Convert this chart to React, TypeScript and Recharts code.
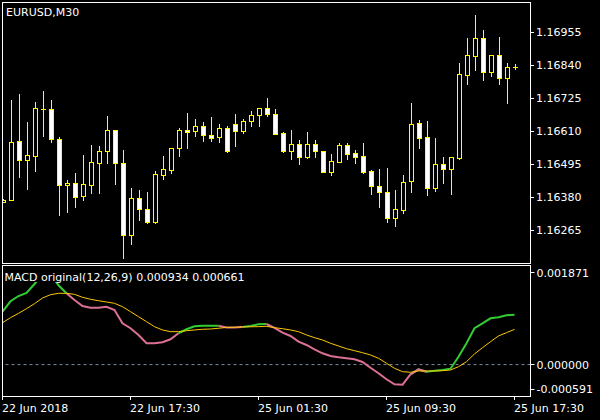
import { ComposedChart, Bar, LineChart, Line, XAxis, YAxis, ReferenceLine } from 'recharts';

const BG = '#000000';
const FRAME = '#FFFFFF';
const CANDLE = '#FFFF00';
const BEAR_FILL = '#FFFFFF';
const MACD_UP = '#32CD32';
const MACD_DOWN = '#DB7093';
const SIGNAL = '#FFC800';
const ZERO = '#778899';
const FONT = '"DejaVu Sans", sans-serif';

// EURUSD M30, bar 0 = 22 Jun 2018
const opens = [
  1.16365, 1.16372, 1.16575, 1.16511, 1.16525, 1.16689, 1.16687, 1.16582, 1.16422, 1.16429,
  1.16383, 1.16422, 1.16501, 1.16540, 1.16613, 1.16498, 1.16248, 1.16376, 1.16338, 1.16295,
  1.16459, 1.16476, 1.16551, 1.16613, 1.16610, 1.16627, 1.16596, 1.16589, 1.16620, 1.16634,
  1.16610, 1.16645, 1.16666, 1.16690, 1.16669, 1.16603, 1.16542, 1.16565, 1.16521, 1.16565,
  1.16540, 1.16469, 1.16504, 1.16561, 1.16533, 1.16523, 1.16471, 1.16418, 1.16397, 1.16307,
  1.16337, 1.16438, 1.16638, 1.16589, 1.16413, 1.16495, 1.16480, 1.16517, 1.16807, 1.16873,
  1.16935, 1.16818, 1.16875, 1.16797, 1.16833,
];
const highs = [
  1.16374, 1.16719, 1.16740, 1.16642, 1.16712, 1.16750, 1.16719, 1.16589, 1.16440, 1.16465,
  1.16527, 1.16561, 1.16558, 1.16663, 1.16615, 1.16544, 1.16411, 1.16405, 1.16398, 1.16471,
  1.16524, 1.16551, 1.16620, 1.16674, 1.16653, 1.16642, 1.16660, 1.16635, 1.16627, 1.16670,
  1.16652, 1.16680, 1.16690, 1.16726, 1.16688, 1.16606, 1.16615, 1.16580, 1.16608, 1.16580,
  1.16540, 1.16530, 1.16568, 1.16568, 1.16544, 1.16568, 1.16474, 1.16479, 1.16481, 1.16404,
  1.16458, 1.16709, 1.16649, 1.16646, 1.16587, 1.16520, 1.16519, 1.16847, 1.16935, 1.17015,
  1.16963, 1.16875, 1.16939, 1.16848, 1.16843,
];
const lows = [
  1.16364, 1.16371, 1.16452, 1.16410, 1.16473, 1.16595, 1.16572, 1.16319, 1.16330, 1.16347,
  1.16372, 1.16396, 1.16396, 1.16501, 1.16427, 1.16169, 1.16218, 1.16302, 1.16291, 1.16291,
  1.16445, 1.16466, 1.16525, 1.16553, 1.16595, 1.16577, 1.16575, 1.16574, 1.16539, 1.16560,
  1.16605, 1.16627, 1.16630, 1.16662, 1.16600, 1.16539, 1.16515, 1.16497, 1.16518, 1.16521,
  1.16469, 1.16459, 1.16503, 1.16515, 1.16501, 1.16466, 1.16393, 1.16347, 1.16295, 1.16281,
  1.16326, 1.16398, 1.16553, 1.16388, 1.16403, 1.16431, 1.16393, 1.16515, 1.16775, 1.16825,
  1.16790, 1.16804, 1.16776, 1.16710, 1.16826,
];
const closes = [
  1.16371, 1.16572, 1.16511, 1.16526, 1.16690, 1.16687, 1.16582, 1.16422, 1.16429, 1.16382,
  1.16425, 1.16502, 1.16540, 1.16613, 1.16498, 1.16248, 1.16376, 1.16338, 1.16295, 1.16460,
  1.16478, 1.16551, 1.16613, 1.16606, 1.16627, 1.16596, 1.16586, 1.16620, 1.16540, 1.16610,
  1.16645, 1.16666, 1.16690, 1.16669, 1.16602, 1.16542, 1.16565, 1.16521, 1.16565, 1.16540,
  1.16469, 1.16505, 1.16561, 1.16532, 1.16521, 1.16469, 1.16418, 1.16397, 1.16307, 1.16339,
  1.16432, 1.16635, 1.16588, 1.16413, 1.16495, 1.16480, 1.16519, 1.16809, 1.16875, 1.16935,
  1.16818, 1.16875, 1.16797, 1.16833, 1.16833,
];

const macdValues = [
  0.000994, 0.001189, 0.001288, 0.001345, 0.001514, 0.001690, 0.001700, 0.001490, 0.001340, 0.001213,
  0.001101, 0.001069, 0.001069, 0.001087, 0.001025, 0.000775, 0.000682, 0.000556, 0.000400, 0.000400,
  0.000419, 0.000475, 0.000588, 0.000663, 0.000719, 0.000730, 0.000730, 0.000730, 0.000695, 0.000697,
  0.000706, 0.000725, 0.000757, 0.000762, 0.000690, 0.000599, 0.000537, 0.000430, 0.000368, 0.000287,
  0.000212, 0.000161, 0.000137, 0.000118, 0.000099, 0.000048, -0.000059, -0.000164, -0.000277, -0.000371,
  -0.000378, -0.000183, -0.000089, -0.000134, -0.000118, -0.000102, -0.000078, 0.000148, 0.000400, 0.000682,
  0.000775, 0.000869, 0.000888, 0.000926, 0.000934,
];
const signalValues = [
  0.000787, 0.000881, 0.000963, 0.001050, 0.001144, 0.001251, 0.001313, 0.001339, 0.001339, 0.001320,
  0.001264, 0.001226, 0.001200, 0.001176, 0.001151, 0.001087, 0.000994, 0.000900, 0.000806, 0.000712,
  0.000650, 0.000618, 0.000618, 0.000636, 0.000650, 0.000663, 0.000668, 0.000682, 0.000698, 0.000700,
  0.000708, 0.000710, 0.000712, 0.000719, 0.000693, 0.000674, 0.000650, 0.000618, 0.000556, 0.000505,
  0.000462, 0.000400, 0.000349, 0.000298, 0.000261, 0.000223, 0.000180, 0.000118, 0.000024, -0.000070,
  -0.000134, -0.000145, -0.000121, -0.000121, -0.000121, -0.000115, -0.000102, -0.000040, 0.000054, 0.000199,
  0.000317, 0.000430, 0.000537, 0.000599, 0.000661,
];

const PRICE_MIN = 1.16151;
const PRICE_MAX = 1.170606;
const MACD_MIN = -0.000591;
const MACD_MAX = 0.001871;
const BAR_SLOTS = 66;

const priceTicks = [1.16265, 1.1638, 1.16495, 1.1661, 1.16725, 1.1684, 1.16955];
const macdTicks = [MACD_MIN, 0, MACD_MAX];
const timeTicks = [0, 16, 32, 48, 64];
const timeLabels = ['22 Jun 2018', '22 Jun 17:30', '25 Jun 01:30', '25 Jun 09:30', '25 Jun 17:30'];

const candles = Array.from({ length: BAR_SLOTS }, (_, i) => ({
  i,
  open: opens[i] ?? null,
  high: highs[i] ?? null,
  low: lows[i] ?? null,
  close: closes[i] ?? null,
}));

// line is green while MACD is above its signal line
const above = macdValues.map((m, i) => m >= signalValues[i]);
const macdRows = macdValues.map((m, i) => {
  const nextAbove = i + 1 < above.length ? above[i + 1] : above[i];
  return {
    i,
    signal: signalValues[i],
    up: above[i] || nextAbove ? m : null,
    dn: !above[i] || !nextAbove ? m : null,
  };
});

function Candle(props: any) {
  const { x, y, width, height, payload } = props;
  if (!payload || payload.high == null || !isFinite(y) || !isFinite(height)) return null;
  const { open, high, low, close } = payload;
  const top = Math.min(y, y + height);
  const h = Math.abs(height);
  const k = high === low ? 0 : h / (high - low);
  const yOf = (v: number) => top + (high - v) * k;
  const cx = x + width / 2;
  const wickTop = Math.round(top);
  const wickBot = Math.round(top + h);
  const bodyTop = Math.round(yOf(Math.max(open, close)));
  const bodyBot = Math.round(yOf(Math.min(open, close)));
  return (
    <g>
      <rect x={cx - 0.5} y={wickTop} width={1} height={wickBot - wickTop + 1} fill={CANDLE} />
      {bodyBot - bodyTop < 1 ? (
        <rect x={cx - 2.5} y={bodyTop} width={5} height={1} fill={CANDLE} />
      ) : (
        <rect
          x={cx - 2}
          y={bodyTop + 0.5}
          width={4}
          height={bodyBot - bodyTop}
          fill={close > open ? BG : BEAR_FILL}
          stroke={CANDLE}
          strokeWidth={1}
        />
      )}
    </g>
  );
}

function PriceTick(props: any) {
  const { x, y, payload } = props;
  return (
    <g>
      <line x1={x - 6} x2={x - 2} y1={Math.floor(y) + 0.5} y2={Math.floor(y) + 0.5} stroke={FRAME} />
      <text x={x} y={y + 4} fill={FRAME} fontSize={11} fontFamily={FONT}>
        {Number(payload.value).toFixed(5)}
      </text>
    </g>
  );
}

function MacdTick(props: any) {
  const { x, y, payload } = props;
  // keep the end labels inside the sub window, as the terminal does
  const ty = Math.min(Math.max(y, 7.7), 124);
  return (
    <g>
      <line x1={x - 6} x2={x - 2} y1={Math.floor(ty) + 0.5} y2={Math.floor(ty) + 0.5} stroke={FRAME} />
      <text x={x} y={ty + 4} fill={FRAME} fontSize={11} fontFamily={FONT}>
        {Number(payload.value).toFixed(6)}
      </text>
    </g>
  );
}

function TimeTick(props: any) {
  const { x, y, payload } = props;
  const label = timeLabels[timeTicks.indexOf(payload.value)] ?? '';
  const lx = Math.floor(x) + 0.5;
  return (
    <g>
      <line x1={lx} x2={lx} y1={y - 5} y2={y - 1} stroke={FRAME} />
      <text x={Math.floor(x)} y={y + 10.5} fill={FRAME} fontSize={11} fontFamily={FONT}>
        {label}
      </text>
    </g>
  );
}

const frame = (top: number, height: number) => ({
  position: 'absolute' as const,
  left: 2,
  top,
  width: 529,
  height,
  boxSizing: 'border-box' as const,
  border: `1px solid ${FRAME}`,
  pointerEvents: 'none' as const,
});

export default function App() {
  const last = macdValues.length - 1;
  const macdLabel = `MACD original(12,26,9) ${macdValues[last].toFixed(6)} ${signalValues[last].toFixed(6)}`;
  return (
    <div style={{ position: 'absolute', left: 0, top: 0, width: 600, height: 420, background: BG, overflow: 'hidden' }}>
      <div style={{ position: 'absolute', left: 2, top: 0, width: 598, height: 265, overflow: 'hidden' }}>
        <div style={{ position: 'absolute', left: -2, top: 0 }}>
          <ComposedChart width={600} height={265} data={candles} margin={{ top: 2, right: 0, bottom: 2, left: -1 }}>
            <XAxis dataKey="i" type="category" hide padding={{ left: 0, right: 3 }} />
            <YAxis
              orientation="right"
              width={70}
              domain={[PRICE_MIN, PRICE_MAX]}
              allowDataOverflow
              ticks={priceTicks}
              interval={0}
              axisLine={false}
              tickLine={false}
              tickSize={4}
              tickMargin={2}
              tick={<PriceTick />}
            />
            <Bar
              dataKey={(d: any) => (d.high == null ? null : [d.low, d.high])}
              barSize={5}
              shape={<Candle />}
              isAnimationActive={false}
            />
          </ComposedChart>
        </div>
      </div>

      <div style={{ position: 'absolute', left: 0, top: 265 }}>
        <LineChart width={600} height={155} data={macdRows} margin={{ top: 0, right: 0, bottom: 0, left: 2.5 }}>
          <XAxis
            dataKey="i"
            type="number"
            domain={[0, BAR_SLOTS]}
            ticks={timeTicks}
            interval={0}
            height={24}
            axisLine={false}
            tickLine={false}
            tickSize={3}
            tickMargin={2}
            tick={<TimeTick />}
          />
          <YAxis
            orientation="right"
            width={69.5}
            domain={[MACD_MIN, MACD_MAX]}
            allowDataOverflow
            ticks={macdTicks}
            interval={0}
            axisLine={false}
            tickLine={false}
            tickSize={4}
            tickMargin={2}
            tick={<MacdTick />}
          />
          <ReferenceLine y={0} stroke={ZERO} strokeDasharray="3 3" />
          <Line dataKey="up" stroke={MACD_UP} strokeWidth={2} dot={false} activeDot={false} isAnimationActive={false} />
          <Line dataKey="dn" stroke={MACD_DOWN} strokeWidth={2} dot={false} activeDot={false} isAnimationActive={false} />
          <Line dataKey="signal" stroke={SIGNAL} strokeWidth={1} dot={false} activeDot={false} isAnimationActive={false} />
        </LineChart>
      </div>

      <div style={frame(2, 262)} />
      <div style={frame(265, 132)} />

      <svg width={600} height={420} style={{ position: 'absolute', left: 0, top: 0, pointerEvents: 'none' }}>
        <text x={6} y={16} fill={FRAME} fontSize={11} fontFamily={FONT}>EURUSD,M30</text>
        <rect x={4} y={270} width={242} height={12} fill={BG} />
        <text x={4.5} y={281} fill={FRAME} fontSize={11} fontFamily={FONT}>{macdLabel}</text>
      </svg>
    </div>
  );
}
